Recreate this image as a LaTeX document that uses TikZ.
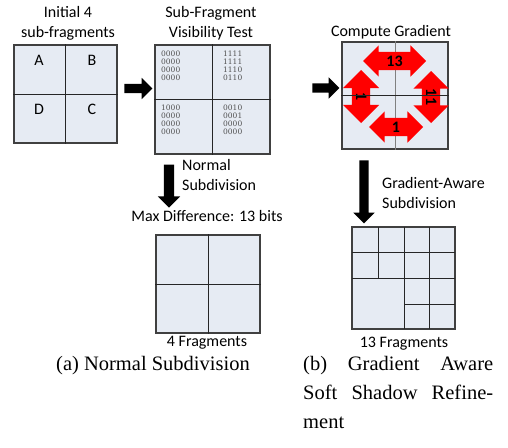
\documentclass[tikz,border=0pt]{standalone}
\usepackage{fontspec}
\setmainfont{Carlito}
\newfontfamily\capfont{Liberation Serif}
\newfontfamily\bitfont{DejaVu Serif}
\usetikzlibrary{shapes.arrows}
\definecolor{fragfill}{HTML}{E6EBF3}
\definecolor{fragline}{HTML}{404040}
\definecolor{bitgray}{HTML}{505050}
\tikzset{
  frag/.style={draw=fragline, fill=fragfill, line width=1.3pt, inner sep=0pt},
  cut/.style={draw=black!85, line width=0.9pt},
  lbl/.style={font=\fontsize{16}{20}\selectfont, inner sep=0pt},
  bits/.style={font=\bitfont\fontsize{7.5}{8}\selectfont, text=bitgray, align=left, anchor=north west, inner sep=0pt},
  blk/.style={single arrow, fill=black, inner sep=0pt, inner ysep=4.5pt, single arrow head extend=6pt},
  gradarr/.style={double arrow, fill=red, font=\bfseries\fontsize{16}{16}\selectfont, text height=10pt, text depth=0pt, inner xsep=0pt, inner ysep=4pt},
  captxt/.style={font=\capfont\fontsize{20.5}{29}\selectfont, inner sep=0pt}
}
\begin{document}
\begin{tikzpicture}[x=1pt,y=-1pt]
  \useasboundingbox (0,0) rectangle (508,447);
  % Sous-fragments initiaux
  \node[lbl, align=center] (initT) at (68,23) {Initial 4\\sub-fragments};
  \node[frag, minimum width=103pt, minimum height=98pt] (init) at (65.5,94) {};
  \draw[cut] (init.north) -- (init.south) (init.west) -- (init.east);
  \node[lbl] (fA) at (39,60) {A};
  \node[lbl] (fB) at (92,60) {B};
  \node[lbl] (fD) at (39,109) {D};
  \node[lbl] (fC) at (92,109) {C};
  \node[blk, minimum height=28pt] (toVis) at (136,88.5) {};

  % Test de visibilite
  \node[lbl, align=center] (visT) at (211,23) {Sub-Fragment\\Visibility Test};
  \node[frag, minimum width=115pt, minimum height=109pt] (vis) at (212.5,99.5) {};
  \draw[cut] (vis.north) -- (vis.south) (vis.west) -- (vis.east);
  \node[bits] (bitsA) at (161,51) {0000\\0000\\0000\\0000};
  \node[bits] (bitsB) at (223,51) {1111\\1111\\1110\\0110};
  \node[bits] (bitsD) at (161,105) {1000\\0000\\0000\\0000};
  \node[bits] (bitsC) at (223,105) {0010\\0001\\0000\\0000};
  \node[blk, minimum height=27pt] (toGrad) at (323.5,88) {};

  % Gradient
  \node[lbl] (gradT) at (391,32) {Compute Gradient};
  \node[frag, minimum width=106pt, minimum height=107pt] (grad) at (395,95.5) {};
  \draw[cut, draw=gray] (grad.north) -- (grad.south);
  \node[gradarr, minimum height=63pt, double arrow head extend=6.5pt] (g13) at (394.5,61) {13};
  \node[gradarr, minimum height=54pt, double arrow head extend=6.5pt] (g1b) at (396,127) {1};
  \node[gradarr, minimum height=53pt, double arrow head extend=9pt, rotate=-90] (g1l) at (361,96.5) {1};
  \node[gradarr, minimum height=52pt, double arrow head extend=8.5pt, rotate=-90] (g11) at (431,97) {11};
  \draw[cut] (grad.west) -- (grad.east);

  % Subdivision normale
  \node[blk, minimum height=43pt, inner ysep=5pt, rotate=-90] (toNorm) at (169,183.5) {};
  \node[lbl, align=left, anchor=west] (normT) at (182,175) {Normal\\Subdivision};
  \node[lbl] (maxT) at (207,216) {Max Difference: 13 bits};
  \node[frag, minimum width=104pt, minimum height=98pt] (norm) at (208,284) {};
  \draw[cut] (norm.north) -- (norm.south) (norm.west) -- (norm.east);
  \node[lbl] (normN) at (207,343) {4 Fragments};

  % Subdivision selon le gradient
  \node[blk, minimum height=63pt, rotate=-90] (toGA) at (364,189.5) {};
  \node[lbl, align=left, anchor=west] (gaT) at (382,193) {Gradient-Aware\\Subdivision};
  \node[frag, minimum width=103pt, minimum height=102pt] (ga) at (403.5,278) {};
  \draw[cut] (378,227) -- (378,278);
  \draw[cut] (404,227) -- (404,329) (429,227) -- (429,329);
  \draw[cut] (352,252) -- (455,252) (352,278) -- (455,278);
  \draw[cut] (404,304) -- (455,304);
  \node[lbl] (gaN) at (404,344) {13 Fragments};

  % Legendes
  \node[captxt, anchor=base] (capA) at (153,370) {(a) Normal Subdivision};
  \node[captxt, anchor=base west, text width=190pt, align=justify] (capB) at (303,370)
    {(b) Gradient Aware\linebreak Soft Shadow Refine-\linebreak ment};
\end{tikzpicture}
\end{document}
